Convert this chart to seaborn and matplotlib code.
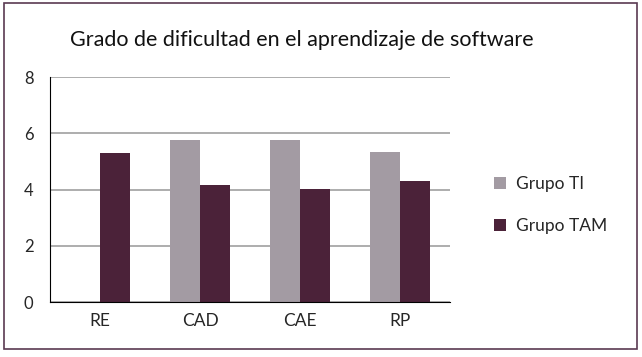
import numpy as np
import pandas as pd
import seaborn as sns
import matplotlib.pyplot as plt
from matplotlib.patches import Rectangle

# datos
categorias = ["RE", "CAD", "CAE", "RP"]
grupo_ti = [np.nan, 5.76, 5.76, 5.34]
grupo_tam = [5.30, 4.16, 4.02, 4.30]
grupos = ["Grupo TI", "Grupo TAM"]
colores = ["#a39ba3", "#4b2239"]

df = pd.DataFrame({
    "cat": categorias * 2,
    "valor": grupo_ti + grupo_tam,
    "grupo": [grupos[0]] * 4 + [grupos[1]] * 4,
})

sns.set_style("white")
plt.rcParams['font.family'] = ['Lato', 'DejaVu Sans']

fig = plt.figure(figsize=(6.42, 3.57), dpi=100)
ax = fig.add_axes([0.078, 0.154, 0.623, 0.63])

sns.barplot(data=df, x="cat", y="valor", hue="grupo", order=categorias,
            hue_order=grupos, palette=colores, width=0.6, saturation=1,
            linewidth=0, edgecolor="none", ax=ax, legend=True)

ax.set_ylim(0, 8)
ax.set_yticks([0, 2, 4, 6, 8])
ax.set_xlabel("")
ax.set_ylabel("")
ax.yaxis.grid(True, color="#a0a0a0", linewidth=1.2)
ax.set_axisbelow(True)
for s in ["top", "right"]:
    ax.spines[s].set_visible(False)
ax.spines["left"].set_color("black")
ax.spines["bottom"].set_color("black")
ax.tick_params(axis="y", length=0, labelsize=12, pad=12)
ax.tick_params(axis="x", length=0, labelsize=12.5, pad=8)

ax.legend(loc="center left", bbox_to_anchor=(1.07, 0.43), frameon=False,
          fontsize=12.5, handlelength=0.7, handleheight=0.7,
          labelspacing=1.5, handletextpad=0.6)

fig.text(0.47, 0.888, "Grado de dificultad en el aprendizaje de software",
         ha="center", va="center", fontsize=15.5, color="#111111")

fig.patches.append(Rectangle((0.006, 0.022), 0.986, 0.97, transform=fig.transFigure,
                             fill=False, edgecolor="#5a3a52", linewidth=1.2))

fig.savefig("out.png", dpi=100)
